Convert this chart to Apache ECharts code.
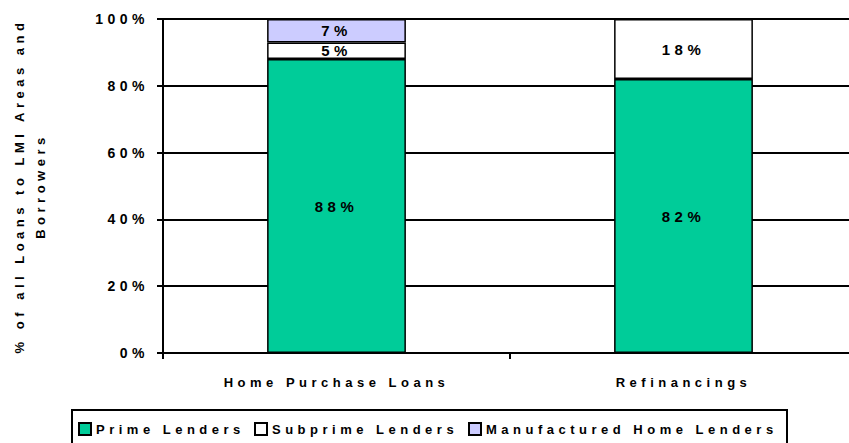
<!DOCTYPE html>
<html>
<head>
<meta charset="utf-8">
<title>LMI loans by lender type</title>
<script src="https://cdn.jsdelivr.net/npm/echarts@6/dist/echarts.min.js"></script>
<style>
  html, body { margin: 0; padding: 0; background: #fff; }
  #chart { width: 849px; height: 443px; }
  /* the original chart uses widely spaced letters */
  #chart text { letter-spacing: 4.5px; }
</style>
</head>
<body>
<div id="chart"></div>
<script>
const categories = ['Home Purchase Loans', 'Refinancings']
const seriesNames = ['Prime Lenders', 'Subprime Lenders', 'Manufactured Home Lenders']
const primeLenders = [88, 82]
const subprimeLenders = [5, 18]
const manufacturedHomeLenders = [7, 0]
const yTicks = { min: 0, max: 100, interval: 20 }

const fontFamily = '"Liberation Sans", Arial, sans-serif'
const black = '#000'
const legendFont = { color: black, fontFamily: fontFamily, fontWeight: 'bold', fontSize: 13 }

// echarts lays out legend text without the css letter spacing,
// so each legend item gets its own legend placed where the original has it
function textWidth (text) {
  const ctx = document.createElement('canvas').getContext('2d')
  ctx.font = 'bold 13px ' + fontFamily
  return ctx.measureText(text).width
}
const legendBox = { left: 72, right: 786, top: 410, pad: 12 }
const legendItemLeft = [78, 254, 468]

const chart = echarts.init(document.getElementById('chart'), null, { renderer: 'svg' })

function barSeries (name, data, color) {
  return {
    name: name,
    type: 'bar',
    stack: 'total',
    barWidth: '40%',
    data: data,
    itemStyle: {
      color: color,
      borderColor: black,
      borderWidth: 1.5
    },
    label: {
      show: true,
      position: 'inside',
      color: black,
      fontFamily: fontFamily,
      fontWeight: 'bold',
      fontSize: 15,
      formatter: function (p) {
        return p.value ? p.value + '%' : ''
      }
    },
    emphasis: { disabled: true }
  }
}

const legends = seriesNames.map(function (name, i) {
  const legend = {
    data: [name],
    left: legendItemLeft[i],
    top: legendBox.top + legendBox.pad,
    padding: 0,
    itemWidth: 12,
    itemHeight: 12,
    icon: 'rect',
    selectedMode: false,
    textStyle: legendFont
  }
  if (i === 0) {
    // first legend carries the frame round all three
    const padLeft = legendItemLeft[0] - legendBox.left
    const inner = 12 + 5 + textWidth(name)
    legend.left = legendBox.left
    legend.top = legendBox.top
    legend.padding = [legendBox.pad, legendBox.right - legendBox.left - padLeft - inner, legendBox.pad, padLeft]
    legend.borderColor = black
    legend.borderWidth = 2
  }
  return legend
})

chart.setOption({
  animation: false,
  grid: {
    left: 163,
    top: 19,
    width: 694,
    bottom: 90,
    // plot runs past the right edge of the picture, like the original
    outerBoundsMode: 'none'
  },
  legend: legends,
  xAxis: {
    type: 'category',
    data: categories,
    axisLine: { lineStyle: { color: black, width: 2 } },
    axisTick: { show: true, length: 6, lineStyle: { color: black, width: 2 } },
    axisLabel: {
      color: black,
      fontFamily: fontFamily,
      fontWeight: 'bold',
      fontSize: 13,
      margin: 23
    }
  },
  yAxis: {
    type: 'value',
    min: yTicks.min,
    max: yTicks.max,
    interval: yTicks.interval,
    name: '% of all Loans to LMI Areas and\nBorrowers',
    nameLocation: 'middle',
    nameGap: 112,
    nameTextStyle: {
      color: black,
      fontFamily: fontFamily,
      fontWeight: 'bold',
      fontSize: 13,
      lineHeight: 21
    },
    axisLine: { show: true, lineStyle: { color: black, width: 2 } },
    axisTick: { show: true, length: 6, lineStyle: { color: black, width: 2 } },
    splitLine: { show: true, lineStyle: { color: black, width: 2 } },
    axisLabel: {
      color: black,
      fontFamily: fontFamily,
      fontWeight: 'bold',
      fontSize: 14,
      margin: 14,
      formatter: '{value}%'
    }
  },
  series: [
    barSeries(seriesNames[0], primeLenders, '#00CC99'),
    barSeries(seriesNames[1], subprimeLenders, '#FFFFFF'),
    barSeries(seriesNames[2], manufacturedHomeLenders, '#CCCCFF')
  ]
})
</script>
</body>
</html>
